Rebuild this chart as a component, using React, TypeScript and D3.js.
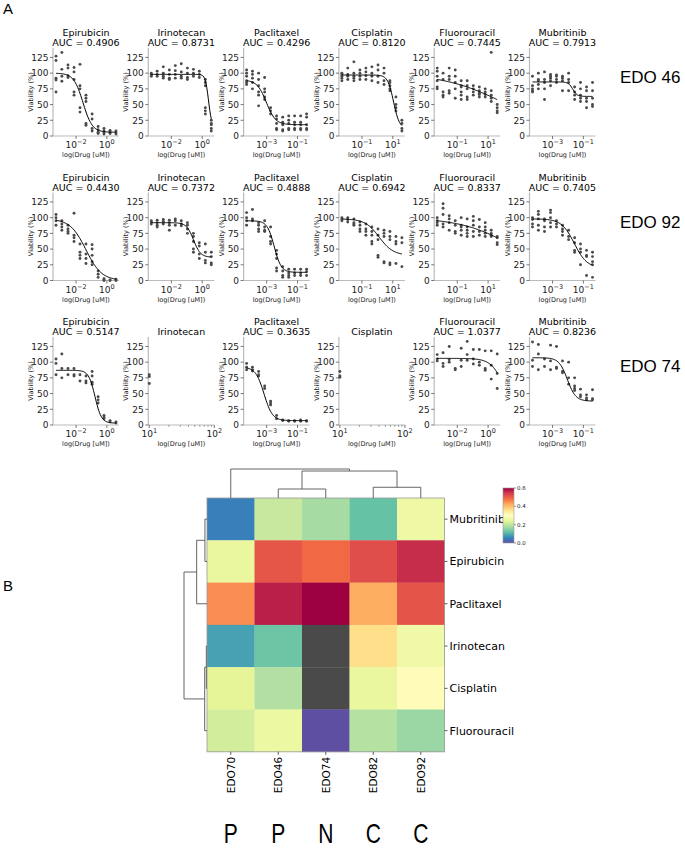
import React from "react";
import * as d3 from "d3";

// ---- panel A data ----
const drugs = ["Epirubicin", "Irinotecan", "Paclitaxel", "Cisplatin", "Fluorouracil", "Mubritinib"];
const lines = ["EDO 46", "EDO 92", "EDO 74"];

// concentrations (uM)
const concEpirubicin = [0.0005, 0.0012, 0.003, 0.0074, 0.018, 0.044, 0.11, 0.27, 0.65, 1.6, 3.9];
const concIrinotecan = [0.0005, 0.0012, 0.003, 0.0074, 0.018, 0.044, 0.11, 0.27, 0.65, 1.6, 3.9];
const concPaclitaxel = [0.00005, 0.00012, 0.0003, 0.00074, 0.0018, 0.0044, 0.011, 0.027, 0.065, 0.16, 0.39];
const concCisplatin = [0.005, 0.012, 0.03, 0.074, 0.18, 0.44, 1.1, 2.7, 6.5, 16, 39];
const concFluorouracil = [0.005, 0.012, 0.03, 0.074, 0.18, 0.44, 1.1, 2.7, 6.5, 16, 39];
const concMubritinib = [0.00005, 0.00012, 0.0003, 0.00074, 0.0018, 0.0044, 0.011, 0.027, 0.065, 0.16, 0.39];
const concFluorouracil74 = [0.0005, 0.0012, 0.003, 0.0074, 0.018, 0.044, 0.11, 0.27, 0.65, 1.6, 3.9];
const concSingle = [10];

// decade exponents of the labelled x ticks
const ticksEDO46 = [[-2, 0], [-2, 0], [-3, -1], [-1, 1], [-1, 1], [-3, -1]];
const ticksEDO92 = [[-2, 0], [-2, 0], [-3, -1], [-1, 1], [-1, 1], [-3, -1]];
const ticksEDO74 = [[-2, 0], [1, 2], [-3, -1], [1, 2], [-2, 0], [-3, -1]];

// viability replicates per concentration
const v46Epirubicin = [[127, 120, 92, 89, 70], [133, 106, 95, 87], [113, 108, 96, 93], [109, 102, 90, 70, 65], [114, 80, 75, 45, 38], [65, 60, 55, 20, 17], [35, 27, 12, 8], [15, 10, 6, 4], [12, 8, 5, 3], [9, 6, 4], [8, 5, 3]];
const v46Irinotecan = [[100, 97, 95], [103, 98, 95], [110, 100, 95, 92], [105, 98, 92, 90], [112, 104, 98, 92], [115, 102, 95, 92], [108, 100, 93, 90], [106, 100, 95], [103, 98, 93], [90, 85, 80, 45, 40, 35], [25, 20, 18, 12, 8]];
const v46Paclitaxel = [[105, 100, 95, 88, 85, 82], [103, 98, 92, 85, 75], [100, 90, 80, 70, 65, 48], [93, 75, 70, 62, 58], [45, 40, 35], [32, 27, 20, 12, 10], [30, 22, 18, 10, 8], [32, 25, 20, 12, 10], [32, 22, 18, 12, 10], [32, 22, 18, 12, 10], [35, 30, 18, 12, 10]];
const v46Cisplatin = [[100, 98, 95, 92, 88], [108, 98, 95, 90], [118, 100, 95, 92, 88], [105, 100, 95, 90], [108, 102, 96, 90], [110, 100, 95, 88], [113, 105, 95, 85], [108, 100, 88, 82], [88, 85, 80, 75, 72], [62, 50, 45, 40], [25, 20, 12, 8]];
const v46Fluorouracil = [[108, 103, 95, 88, 78, 75], [100, 90, 70, 65, 62], [108, 95, 90, 72, 68], [105, 95, 85, 75, 60], [88, 80, 78, 70, 65, 58], [88, 80, 75, 62, 58], [80, 75, 70, 65], [78, 72, 68, 66, 62], [75, 70, 66, 62], [133, 72, 65, 60, 55], [50, 45, 40, 37]];
const v46Mubritinib = [[95, 80, 75, 72, 70], [100, 90, 88, 82, 75], [102, 90, 85, 75, 58], [98, 95, 92, 88, 80], [97, 95, 90, 85], [95, 92, 88, 72], [100, 90, 85, 72], [78, 70, 65, 58], [85, 75, 65, 60, 55], [78, 72, 60, 55, 45], [85, 72, 60, 50, 47]];

const v92Epirubicin = [[105, 100, 95, 88], [95, 90, 85, 80], [88, 82, 78, 75], [107, 72, 68, 62], [58, 45, 40, 35], [58, 42, 35, 27], [57, 50, 40, 30, 25], [15, 10, 5], [3, 1, 0], [1, 0], [2, 0]];
const v92Irinotecan = [[95, 93, 90], [96, 92, 88, 85], [97, 94, 90], [96, 92, 88, 80], [98, 95, 88], [95, 90, 87], [92, 88, 82, 75], [75, 70, 62, 50, 45], [60, 55, 42, 35], [58, 45, 32, 28], [45, 38, 28, 25]];
const v92Paclitaxel = [[108, 100, 95, 88], [113, 98, 95], [92, 88, 82, 78], [95, 85, 80, 78], [85, 70, 62, 58], [48, 42, 35, 20, 15], [22, 15, 8, 5], [18, 12, 8, 5], [18, 12, 8], [18, 12, 8], [18, 14, 8]];
const v92Cisplatin = [[100, 98, 95], [100, 97, 93], [98, 92, 90, 88], [93, 88, 82, 78], [90, 82, 78, 72], [85, 78, 72, 62, 58], [82, 72, 65, 40, 37], [80, 75, 70, 30, 28], [78, 70, 65, 28, 25], [70, 62, 58, 27], [68, 60, 22]];
const v92Fluorouracil = [[100, 95, 92, 88], [122, 115, 105, 90, 85], [103, 98, 92, 80], [95, 88, 78, 75], [100, 88, 85, 80, 72], [98, 85, 80, 75, 70], [102, 95, 88, 78, 70], [97, 85, 78, 72], [92, 85, 80, 75, 70], [80, 75, 72, 70], [70, 68, 60, 57]];
const v92Mubritinib = [[100, 97, 90, 85], [110, 105, 98, 88, 80], [98, 95, 85, 78], [112, 108, 100, 92, 85], [95, 90, 85], [88, 82, 78, 72], [80, 70, 65], [68, 60, 48, 45], [58, 50, 45, 25], [48, 40, 38, 8], [45, 38, 30, 25, 5]];

const v74Epirubicin = [[105, 98, 80], [113, 90, 75], [90, 80], [90, 80, 78], [80, 70], [78, 70, 67], [85, 78, 68, 65], [45, 40, 35], [15, 12, 10], [7, 5], [5, 3]];
const v74Irinotecan = [[80, 77, 66]];
const v74Paclitaxel = [[98, 92, 88], [92, 88, 86], [85, 80, 78], [62, 58], [38, 35, 32], [15, 10], [8, 7], [7, 6], [7, 6], [8, 6], [7, 6]];
const v74Cisplatin = [[85, 78, 76]];
const v74Fluorouracil = [[112, 105, 102], [115, 98, 93], [125, 104, 100], [90, 88], [122, 103, 93], [133, 112, 103], [120, 105, 97], [120, 100, 95], [118, 90, 87], [118, 95, 73], [113, 82, 58]];
const v74Mubritinib = [[132, 103, 93], [128, 113, 88], [105, 93], [127, 102, 88], [125, 92, 90], [102, 85, 83], [100, 75, 65], [75, 62, 58, 55], [57, 48, 45], [48, 43, 40], [56, 42, 40]];

// fitted 4PL curves: [top, bottom, log10 EC50, hill]
const fitEDO46 = [[100, 6, -1.55, 1.45], [98, 15, 0.41, 4.2], [89, 18, -3.02, 1.45], [97, 12, 1.05, 2.3], [100, 0, 2.25, 0.21], [86, 63, -1.69, 3.1]];
const fitEDO92 = [[98, 0, -1.36, 0.85], [92, 37, -0.56, 1.9], [95, 13, -2.51, 1.9], [98, 40, 0.12, 0.95], [100, 0, 2.91, 0.246], [98, 20, -1.59, 1.05]];
const fitEDO74 = [[87, 3, -0.77, 2.1], null, [92, 7, -3.17, 1.6], null, [106, 0, 1.15, 1.0], [107, 38, -2.04, 1.6]];

const aucEDO46 = ["0.4906", "0.8731", "0.4296", "0.8120", "0.7445", "0.7913"];
const aucEDO92 = ["0.4430", "0.7372", "0.4888", "0.6942", "0.8337", "0.7405"];
const aucEDO74 = ["0.5147", null, "0.3635", null, "1.0377", "0.8236"];

const yTicks = [0, 25, 50, 75, 100, 125];

// ---- panel B data ----
const hmRows = ["Mubritinib", "Epirubicin", "Paclitaxel", "Irinotecan", "Cisplatin", "Fluorouracil"];
const hmCols = ["EDO70", "EDO46", "EDO74", "EDO82", "EDO92"];
const hmGroups = ["P", "P", "N", "C", "C"];
const valEDO70 = [0.05, 0.25, 0.45, 0.085, 0.24, 0.22];
const valEDO46 = [0.2087, 0.5094, 0.5704, 0.1269, 0.188, 0.2555];
const valEDO74 = [0.1764, 0.4853, 0.6365, null, null, -0.0377];
const valEDO82 = [0.12, 0.52, 0.42, 0.36, 0.25, 0.19];
const valEDO92 = [0.2595, 0.557, 0.5112, 0.2628, 0.3058, 0.1663];
// linkage: [child a, child b, height]
const colLinks = [[1, 2, 0.31], [3, 4, 0.37], [5, 6, 0.93], [0, 7, 1.0]];
const rowLinks = [[0, 1, 0.09], [3, 4, 0.03], [6, 2, 0.45], [7, 5, 0.1], [8, 9, 1.0]];
const spectralR = ["#5e4fa2", "#3288bd", "#66c2a5", "#abdda4", "#e6f598", "#ffffbf", "#fee08b", "#fdae61", "#f46d43", "#d53e4f", "#9e0142"];
const cbTicks = [0, 0.2, 0.4, 0.6];

const FONT = "DejaVu Sans, sans-serif";

const panelData = [
  { ticks: ticksEDO46, fits: fitEDO46, aucs: aucEDO46, vals: [v46Epirubicin, v46Irinotecan, v46Paclitaxel, v46Cisplatin, v46Fluorouracil, v46Mubritinib], concs: [concEpirubicin, concIrinotecan, concPaclitaxel, concCisplatin, concFluorouracil, concMubritinib] },
  { ticks: ticksEDO92, fits: fitEDO92, aucs: aucEDO92, vals: [v92Epirubicin, v92Irinotecan, v92Paclitaxel, v92Cisplatin, v92Fluorouracil, v92Mubritinib], concs: [concEpirubicin, concIrinotecan, concPaclitaxel, concCisplatin, concFluorouracil, concMubritinib] },
  { ticks: ticksEDO74, fits: fitEDO74, aucs: aucEDO74, vals: [v74Epirubicin, v74Irinotecan, v74Paclitaxel, v74Cisplatin, v74Fluorouracil, v74Mubritinib], concs: [concEpirubicin, concSingle, concPaclitaxel, concSingle, concFluorouracil74, concMubritinib] },
];

const PW = 66;
const PH = 88;
const colX = (i: number) => 53 + 95.3 * i;
const rowZero = (r: number) => 136 + 144.5 * r;

const sup = (t: number) => (t < 0 ? `\u2212${-t}` : `${t}`);

function Panel({ x0, y0, drug, conc, values, fit, auc, ticks }: any) {
  const lo = Math.log10(d3.min(conc) as number);
  const hi = Math.log10(d3.max(conc) as number);
  const single = conc.length === 1;
  const pad = (hi - lo) * 0.05;
  const dom = single ? [10 ** 0.985, 100] : [10 ** (lo - pad), 10 ** (hi + pad)];
  const sx = d3.scaleLog().domain(dom).range([x0, x0 + PW]);
  const sy = d3.scaleLinear().domain([0, 140]).range([y0, y0 - PH]);
  const pts: [number, number][] = [];
  values.forEach((reps: number[], i: number) => reps.forEach((v) => pts.push([conc[i], v])));
  let curve = null;
  if (fit) {
    const [top, bot, ec, h] = fit;
    const xs = d3.range(0, 81).map((k) => lo + ((hi - lo) * k) / 80);
    const line = d3.line<number>().x((l) => sx(10 ** l)).y((l) => sy(bot + (top - bot) / (1 + 10 ** (h * (l - ec)))));
    curve = <path d={line(xs) as string} fill="none" stroke="#000" strokeWidth={1} />;
  }
  const minor = single ? [20, 30, 40, 50, 60, 70, 80, 90] : [];
  return (
    <g fontFamily={FONT}>
      <text x={x0 + PW / 2} y={y0 - PH - 2} textAnchor="middle" fontSize={9.5}>
        {auc ? `AUC = ${auc}` : drug}
      </text>
      {auc && (
        <text x={x0 + PW / 2} y={y0 - PH - 12} textAnchor="middle" fontSize={9.5}>
          {drug}
        </text>
      )}
      <line x1={x0} x2={x0} y1={y0} y2={y0 - PH} stroke="#bbb" strokeWidth={1.2} />
      <line x1={x0} x2={x0 + PW} y1={y0} y2={y0} stroke="#bbb" strokeWidth={1.2} />
      {yTicks.map((t) => (
        <g key={t}>
          <line x1={x0 - 3} x2={x0} y1={sy(t)} y2={sy(t)} stroke="#555" strokeWidth={0.8} />
          <text x={x0 - 4.5} y={sy(t) + 3.3} textAnchor="end" fontSize={9} fill="#222">
            {t}
          </text>
        </g>
      ))}
      {ticks.map((t: number) => (
        <g key={t}>
          <line x1={sx(10 ** t)} x2={sx(10 ** t)} y1={y0} y2={y0 + 3} stroke="#555" strokeWidth={0.8} />
          <text x={sx(10 ** t)} y={y0 + 12} textAnchor="middle" fontSize={9} fill="#222">
            10<tspan dy={-4} fontSize={6.5}>{sup(t)}</tspan>
          </text>
        </g>
      ))}
      {minor.map((m) => (
        <line key={m} x1={sx(m)} x2={sx(m)} y1={y0} y2={y0 + 1.8} stroke="#555" strokeWidth={0.6} />
      ))}
      <text x={x0 + PW / 2} y={y0 + 21} textAnchor="middle" fontSize={6.5} fill="#222">
        log(Drug [uM])
      </text>
      <text transform={`translate(${x0 - 20},${y0 - PH / 2}) rotate(-90)`} textAnchor="middle" fontSize={6.5} fill="#222">
        Viability (%)
      </text>
      {pts.map(([c, v], i) => (
        <circle key={i} cx={sx(c)} cy={sy(v)} r={1.45} fill="#4a4a4a" />
      ))}
      {curve}
    </g>
  );
}

function dendro(leafPos: number[], links: number[][]) {
  const pos = [...leafPos];
  const hts = leafPos.map(() => 0);
  const segs: [number, number][][] = [];
  links.forEach(([a, b, h]) => {
    segs.push([[pos[a], hts[a]], [pos[a], h], [pos[b], h], [pos[b], hts[b]]]);
    pos.push((pos[a] + pos[b]) / 2);
    hts.push(h);
  });
  return segs;
}

function Heatmap() {
  const x0 = 207, y0 = 498, cw = 47.5, ch = 42.3;
  const vals = [valEDO70, valEDO46, valEDO74, valEDO82, valEDO92];
  const color = d3.scaleLinear<string>().domain(spectralR.map((_, i) => i * 0.06)).range(spectralR).clamp(true);
  const sxc = d3.scaleBand().domain(hmCols).range([x0, x0 + cw * hmCols.length]);
  const syr = d3.scaleBand().domain(hmRows).range([y0, y0 + ch * hmRows.length]);
  const yb = y0 + ch * hmRows.length;
  const colSegs = dendro(hmCols.map((c) => (sxc(c) as number) + cw / 2), colLinks);
  const rowSegs = dendro(hmRows.map((r) => (syr(r) as number) + ch / 2), rowLinks);
  const topLine = d3.line<[number, number]>().x((d) => d[0]).y((d) => y0 - d[1] * 29);
  const leftLine = d3.line<[number, number]>().x((d) => x0 - d[1] * 23).y((d) => d[0]);
  const cb = d3.scaleLinear().domain([0, 0.6]).range([543, 488]);
  return (
    <g fontFamily={FONT}>
      <defs>
        <linearGradient id="cbg" x1="0" y1="1" x2="0" y2="0">
          {spectralR.map((c, i) => (
            <stop key={i} offset={i / 10} stopColor={c} />
          ))}
        </linearGradient>
      </defs>
      {hmCols.map((c, j) =>
        hmRows.map((r, i) => {
          const v = vals[j][i];
          return (
            <rect key={c + r} x={sxc(c)} y={syr(r)} width={cw + 0.3} height={ch + 0.3} fill={v === null ? "#4a4a4a" : color(v)} />
          );
        })
      )}
      <rect x={x0} y={y0} width={cw * 5} height={ch * 6} fill="none" stroke="#999" strokeWidth={0.8} />
      {colSegs.map((s, i) => (
        <path key={i} d={topLine(s) as string} fill="none" stroke="#555" strokeWidth={0.9} />
      ))}
      {rowSegs.map((s, i) => (
        <path key={i} d={leftLine(s) as string} fill="none" stroke="#555" strokeWidth={0.9} />
      ))}
      {hmRows.map((r) => (
        <g key={r}>
          <line x1={x0 + cw * 5} x2={x0 + cw * 5 + 3} y1={(syr(r) as number) + ch / 2} y2={(syr(r) as number) + ch / 2} stroke="#333" strokeWidth={0.8} />
          <text x={x0 + cw * 5 + 5} y={(syr(r) as number) + ch / 2 + 4} fontSize={11}>
            {r}
          </text>
        </g>
      ))}
      {hmCols.map((c, j) => {
        const cx = (sxc(c) as number) + cw / 2;
        return (
          <g key={c}>
            <line x1={cx} x2={cx} y1={yb} y2={yb + 3} stroke="#333" strokeWidth={0.8} />
            <text transform={`translate(${cx + 3.8},${yb + 5}) rotate(-90)`} textAnchor="end" fontSize={10.5}>
              {c}
            </text>
            <text transform={`translate(${cx},${yb + 91}) scale(0.78,1)`} textAnchor="middle" fontSize={27} fontFamily="Liberation Sans, Arial, sans-serif">
              {hmGroups[j]}
            </text>
          </g>
        );
      })}
      <rect x={503} y={488} width={11} height={55} fill="url(#cbg)" stroke="#999" strokeWidth={0.6} />
      {cbTicks.map((t) => (
        <g key={t}>
          <line x1={514} x2={516} y1={cb(t)} y2={cb(t)} stroke="#555" strokeWidth={0.6} />
          <text x={517} y={cb(t) + 2} fontSize={5.5} fill="#222">
            {t.toFixed(1)}
          </text>
        </g>
      ))}
    </g>
  );
}

export default function App() {
  return (
    <svg width={685} height={851} style={{ position: "absolute", left: 0, top: 0, background: "#fff" }}>
      <rect width={685} height={851} fill="#fff" />
      <text x={3} y={14} fontSize={15} fontFamily="Liberation Sans, Arial, sans-serif">A</text>
      <text x={3} y={591} fontSize={15} fontFamily="Liberation Sans, Arial, sans-serif">B</text>
      {panelData.map((row, r) => (
        <g key={r}>
          {drugs.map((drug, i) => (
            <Panel
              key={drug}
              x0={colX(i)}
              y0={rowZero(r)}
              drug={drug}
              conc={row.concs[i]}
              values={row.vals[i]}
              fit={row.fits[i]}
              auc={row.aucs[i]}
              ticks={row.ticks[i]}
            />
          ))}
          <text x={620} y={rowZero(r) - 53} fontSize={17} fontFamily="Liberation Sans, Arial, sans-serif">
            {lines[r]}
          </text>
        </g>
      ))}
      <Heatmap />
    </svg>
  );
}
